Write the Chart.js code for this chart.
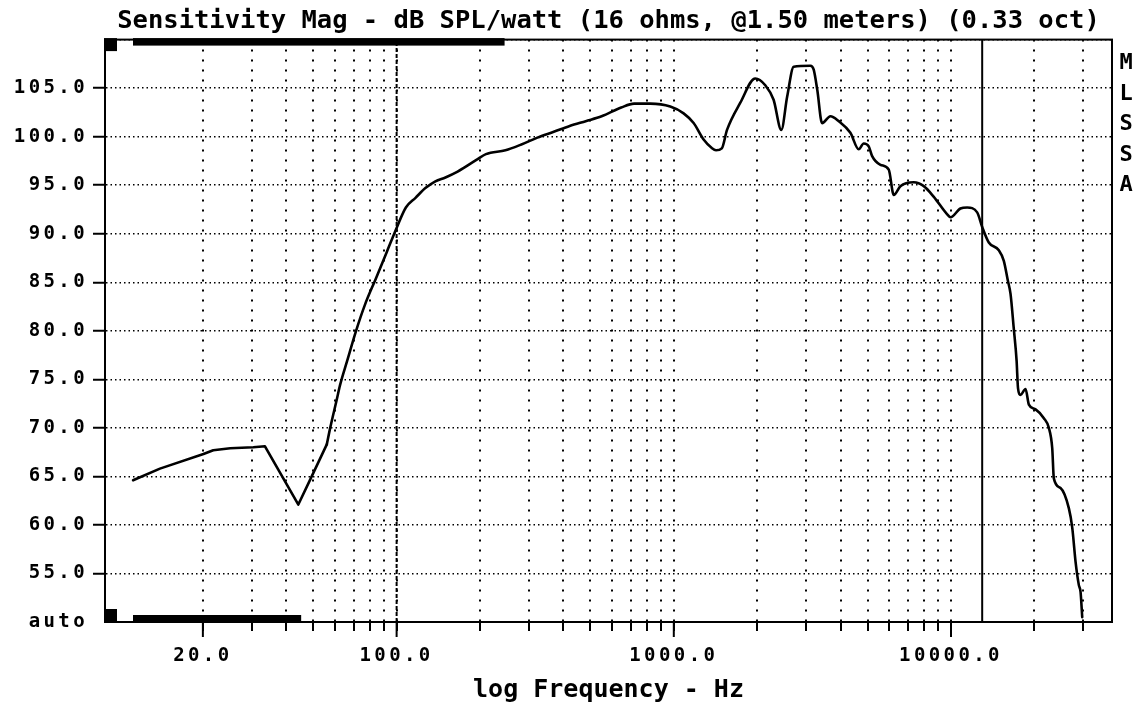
<!DOCTYPE html>
<html>
<head>
<meta charset="utf-8">
<script src="https://cdn.jsdelivr.net/npm/chart.js@4.4.1/dist/chart.umd.min.js"></script>
<style>
  html, body { margin: 0; padding: 0; background: #ffffff; }
  #wrap { width: 1148px; height: 706px; position: relative; }
</style>
</head>
<body>
<div id="wrap"><canvas id="c"></canvas></div>
<script>
// ---------- data ----------
const freqHz = [
  11.2, 14.0, 20.1, 21.8, 25.1, 30.4, 33.5, 44.2, 49.4, 56.0,
  57.6, 60.8, 62.5, 66.3, 71.4, 76.9, 84.2, 92.1, 100, 108,
  117, 127, 138, 150, 166, 194, 210, 247, 282, 322,
  369, 421, 481, 549, 646, 719, 823, 971, 1085, 1179,
  1281, 1374, 1420, 1490, 1556, 1738, 1968, 2138, 2291, 2443,
  2564, 2708, 3110, 3197, 3294, 3428, 3673, 3936, 4336, 4646,
  4844, 5050, 5195, 5566, 5964, 6217, 6572, 7338, 7977, 8670,
  9690, 9968, 10820, 11440, 12430, 12960, 13690, 14880, 15510, 16030,
  16400, 16840, 17250, 17450, 17820, 18580, 19100, 20190, 21630, 22550,
  23190, 23500, 24850, 26630, 27390, 28150, 28930, 29340, 29750
];
const splDb = [
  64.6, 65.8, 67.3, 67.7, 67.9, 68.0, 68.1, 62.1, 65.0, 68.3,
  70.0, 72.9, 74.4, 76.9, 80.0, 82.7, 85.4, 88.1, 90.6, 92.7,
  93.7, 94.7, 95.4, 95.8, 96.4, 97.6, 98.2, 98.6, 99.2, 99.9,
  100.5, 101.1, 101.6, 102.1, 103.0, 103.4, 103.4, 103.1, 102.4, 101.4,
  99.7, 98.8, 98.6, 98.8, 100.7, 103.5, 106.0, 105.3, 103.8, 100.7,
  104.1, 107.2, 107.3, 106.9, 104.8, 101.4, 102.1, 101.6, 100.4, 98.7,
  99.3, 99.0, 98.0, 97.1, 96.6, 94.0, 94.9, 95.3, 94.9, 93.8,
  92.0, 91.7, 92.6, 92.7, 92.2, 90.7, 89.1, 88.3, 87.2, 85.2,
  83.8, 80.3, 76.9, 74.1, 73.4, 74.0, 72.4, 71.9, 71.0, 70.0,
  67.9, 64.8, 63.8, 61.7, 59.7, 56.2, 53.8, 53.1, 50.5
];
// the sub-60 Hz part of the trace is drawn with straight segments
const straightUpToHz = 56.0;
const cursorFreqs = [100, 12960];
const xTickValues = [20, 30, 40, 50, 60, 70, 80, 90, 100, 200, 300, 400, 500, 600, 700, 800, 900,
  1000, 2000, 3000, 4000, 5000, 6000, 7000, 8000, 9000, 10000, 20000, 30000];
const xLabelValues = [20, 100, 1000, 10000];
const yTickValues = [50, 55, 60, 65, 70, 75, 80, 85, 90, 95, 100, 105, 110];
const yBottomLabel = 'auto';
const titleText = 'Sensitivity Mag - dB SPL/watt (16 ohms, @1.50 meters) (0.33 oct)';
const xTitleText = 'log Frequency - Hz';
const sideLetters = ['M', 'L', 'S', 'S', 'A'];
const xRange = [8.87, 38100];
const yRange = [50, 110];

// ---------- chart ----------
const MONO = '"DejaVu Sans Mono", "Liberation Mono", monospace';
const tickLetterSpacing = '3.4px';

const curvePoints = freqHz.map((f, i) => ({ x: f, y: splDb[i] }));
const lowPoints = curvePoints.filter(p => p.x <= straightUpToHz);
const highPoints = curvePoints.filter(p => p.x >= straightUpToHz);
const traceStyle = {
  borderColor: '#000',
  borderWidth: 2.6,
  pointRadius: 0,
  borderJoinStyle: 'round',
  borderCapStyle: 'round'
};
const cursorSets = cursorFreqs.map((f, i) => ({
  data: [{ x: f, y: yRange[0] }, { x: f, y: yRange[1] }],
  borderColor: '#000',
  borderWidth: 2,
  borderDash: i === 0 ? [4, 2] : [],
  pointRadius: 0,
  tension: 0
}));

const spacingPlugin = {
  id: 'tickSpacing',
  beforeDraw(chart) {
    ['x', 'y'].forEach(id => {
      const s = chart.scales[id];
      if (s && !s.__spaced) {
        const orig = s.drawLabels;
        s.drawLabels = function (area) {
          const c = this.ctx;
          const prev = c.letterSpacing;
          c.letterSpacing = tickLetterSpacing;
          orig.call(this, area);
          c.letterSpacing = prev || '0px';
        };
        s.__spaced = true;
      }
    });
  }
};

const decorPlugin = {
  id: 'decor',
  afterDatasetsDraw(chart) {
    const { ctx, chartArea: a, scales } = chart;
    const w = a.right - a.left;
    ctx.save();
    ctx.strokeStyle = '#000';
    ctx.fillStyle = '#000';
    ctx.lineWidth = 2;
    ctx.strokeRect(a.left, a.top, w, a.bottom - a.top);
    // scroll indicators (MLSSA screen decoration)
    ctx.fillRect(a.left - 1, a.top - 1.5, 13, 13);
    ctx.fillRect(a.left + 28, a.top - 1.5, w * 0.369, 7.5);
    ctx.fillRect(a.left - 1, a.bottom - 13, 13, 14);
    ctx.fillRect(a.left + 28, a.bottom - 7, w * 0.167, 8);
    // longer ticks at labelled decades
    xLabelValues.forEach(v => {
      const px = scales.x.getPixelForValue(v);
      ctx.beginPath();
      ctx.moveTo(px, a.bottom);
      ctx.lineTo(px, a.bottom + 15);
      ctx.stroke();
    });
    // side letters
    ctx.font = 'bold 22px ' + MONO;
    ctx.textAlign = 'center';
    ctx.textBaseline = 'middle';
    sideLetters.forEach((ch, i) => ctx.fillText(ch, a.right + 14, a.top + 24 + i * 30.5));
    ctx.restore();
  }
};

new Chart(document.getElementById('c'), {
  type: 'line',
  data: {
    datasets: [
      Object.assign({ data: lowPoints, tension: 0 }, traceStyle),
      Object.assign({ data: highPoints, cubicInterpolationMode: 'monotone' }, traceStyle),
      ...cursorSets
    ]
  },
  options: {
    responsive: true,
    maintainAspectRatio: false,
    animation: false,
    devicePixelRatio: 1,
    layout: { padding: { left: 0, right: 36, top: 0, bottom: 0 } },
    plugins: {
      legend: { display: false },
      tooltip: { enabled: false },
      title: {
        display: true,
        text: titleText,
        fullSize: false,
        color: '#000',
        font: { family: MONO, weight: 'bold', size: 25.5, lineHeight: 1.2 },
        padding: { top: 6, bottom: 3 }
      }
    },
    scales: {
      x: {
        type: 'logarithmic',
        min: xRange[0],
        max: xRange[1],
        afterBuildTicks: s => { s.ticks = xTickValues.map(v => ({ value: v })); },
        afterFit: s => { s.height = 84; },
        ticks: {
          autoSkip: false,
          maxRotation: 0,
          minRotation: 0,
          color: '#000',
          padding: 14,
          font: { family: MONO, weight: 'bold', size: 19 },
          callback: v => xLabelValues.includes(v) ? Number(v).toFixed(1) : ''
        },
        grid: {
          color: '#000',
          lineWidth: 2,
          drawTicks: true,
          tickLength: 9,
          tickWidth: 2,
          tickColor: '#000'
        },
        border: { display: true, color: '#000', width: 2, dash: [2, 8] },
        title: {
          display: true,
          text: xTitleText,
          color: '#000',
          font: { family: MONO, weight: 'bold', size: 25, lineHeight: 1.2 },
          padding: { top: 0, bottom: 1 }
        }
      },
      y: {
        type: 'linear',
        min: yRange[0],
        max: yRange[1],
        afterBuildTicks: s => { s.ticks = yTickValues.map(v => ({ value: v })); },
        afterFit: s => { s.width = 105; },
        ticks: {
          color: '#000',
          padding: 5,
          font: { family: MONO, weight: 'bold', size: 19 },
          callback: v => v === yRange[0] ? yBottomLabel : (v === yRange[1] ? '' : Number(v).toFixed(1))
        },
        grid: {
          color: '#000',
          lineWidth: 1.5,
          drawTicks: true,
          tickLength: 12,
          tickWidth: 2,
          tickColor: c => (c.tick && (c.tick.value === yRange[0] || c.tick.value === yRange[1])) ? 'rgba(0,0,0,0)' : '#000'
        },
        border: { display: true, color: '#000', width: 2, dash: [1.5, 3] }
      }
    }
  },
  plugins: [spacingPlugin, decorPlugin]
});
</script>
</body>
</html>
